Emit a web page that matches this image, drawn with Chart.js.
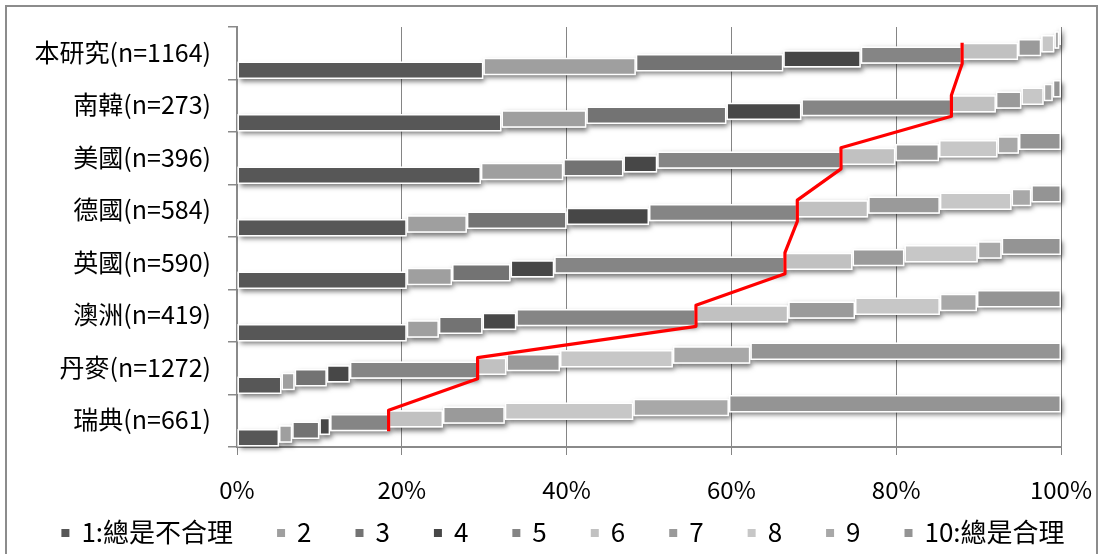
<!DOCTYPE html>
<html>
<head>
<meta charset="utf-8">
<script src="https://cdn.jsdelivr.net/npm/chart.js@4.4.1/dist/chart.umd.min.js"></script>
<style>
  html, body { margin: 0; padding: 0; background: #ffffff; }
  #wrap { width: 1104px; height: 554px; position: relative; }
</style>
</head>
<body>
<div id="wrap"><canvas id="chart"></canvas></div>
<script>
// Respondent groups (top to bottom)
const categories = ['本研究(n=1164)', '南韓(n=273)', '美國(n=396)', '德國(n=584)',
                    '英國(n=590)', '澳洲(n=419)', '丹麥(n=1272)', '瑞典(n=661)'];

// Legend labels for the ten answer levels
const seriesNames = ['1:總是不合理', '2', '3', '4', '5', '6', '7', '8', '9', '10:總是合理'];

// Share of answers (%) per level, one value per group in the order above
const score1  = [29.9, 32.1, 29.6, 20.6, 20.6, 20.6,  5.4,  5.1];
const score2  = [18.5, 10.3, 10.0,  7.3,  5.5,  3.9,  1.6,  1.6];
const score3  = [17.9, 17.0,  7.3, 12.1,  7.1,  5.3,  3.9,  3.3];
const score4  = [ 9.4,  9.1,  4.1, 10.0,  5.3,  4.1,  2.8,  1.3];
const score5  = [12.3, 18.2, 22.3, 18.0, 28.0, 21.8, 15.5,  7.1];
const score6  = [ 6.8,  5.4,  6.6,  8.6,  8.2, 11.2,  3.5,  6.6];
const score7  = [ 2.8,  3.1,  5.3,  8.7,  6.3,  8.1,  6.5,  7.5];
const score8  = [ 1.6,  2.7,  7.1,  8.7,  8.9, 10.3, 13.7, 15.6];
const score9  = [ 0.6,  1.1,  2.6,  2.4,  2.9,  4.5,  9.4, 11.6];
const score10 = [ 0.2,  1.0,  5.1,  3.6,  7.2, 10.2, 37.7, 40.3];

// X axis tick values
const percentTicks = [0, 20, 40, 60, 80, 100];

const seriesValues = [score1, score2, score3, score4, score5, score6, score7, score8, score9, score10];
const seriesColors = ['#575757', '#9f9f9f', '#737373', '#474747', '#858585',
                      '#c1c1c1', '#9a9a9a', '#c7c7c7', '#a8a8a8', '#949494'];

const FONT = "'Noto Sans CJK TC', 'Noto Sans', sans-serif";

// Each level becomes a floating segment [start, end] that continues where the previous one stops
const running = categories.map(() => 0);
const datasets = seriesValues.map((vals, s) => {
  const data = vals.map((v, i) => {
    const seg = [running[i], running[i] + v];
    running[i] += v;
    return seg;
  });
  return {
    label: seriesNames[s],
    data,
    backgroundColor: seriesColors[s],
    borderColor: '#ffffff',
    borderWidth: 1.5,
    borderSkipped: false,
    stack: 'level' + s,
    order: seriesValues.length - s,   // level 1 sits lowest, each next level steps upward
    categoryPercentage: 0.72,
    barPercentage: 4.6
  };
});

// White page with a thin grey frame
const framePlugin = {
  id: 'frame',
  beforeDraw(chart) {
    const ctx = chart.ctx;
    ctx.save();
    ctx.fillStyle = '#ffffff';
    ctx.fillRect(0, 0, chart.width, chart.height);
    ctx.strokeStyle = '#8c8c8c';
    ctx.lineWidth = 2;
    ctx.strokeRect(6, 6, 1091, 600);
    ctx.restore();
  }
};

// Soft drop shadow under every segment
const shadowPlugin = {
  id: 'segmentShadow',
  beforeDatasetsDraw(chart) {
    const ctx = chart.ctx;
    ctx.save();
    ctx.shadowColor = 'rgba(0,0,0,0.55)';
    ctx.shadowBlur = 5;
    ctx.shadowOffsetX = 2;
    ctx.shadowOffsetY = 3;
    ctx.fillStyle = '#ffffff';
    chart.data.datasets.forEach((ds, i) => {
      chart.getDatasetMeta(i).data.forEach(el => {
        const p = el.getProps(['x', 'y', 'base', 'height'], true);
        const l = Math.min(p.x, p.base), r = Math.max(p.x, p.base);
        ctx.fillRect(l, p.y - p.height / 2, r - l, p.height);
      });
    });
    ctx.restore();
  }
};

// Red series line joining the end of level 5 from group to group
const seriesLinePlugin = {
  id: 'seriesLine',
  afterDatasetsDraw(chart) {
    const ctx = chart.ctx;
    const five = chart.getDatasetMeta(4).data;
    const six = chart.getDatasetMeta(5).data;
    ctx.save();
    ctx.strokeStyle = '#ff0000';
    ctx.lineWidth = 3.2;
    ctx.lineJoin = 'round';
    ctx.beginPath();
    five.forEach((el, i) => {
      const p = el.getProps(['x', 'y', 'height'], true);
      const q = six[i].getProps(['y', 'height'], true);
      const top = q.y - q.height / 2;
      const bottom = p.y + p.height / 2;
      if (i === 0) ctx.moveTo(p.x, top); else ctx.lineTo(p.x, top);
      ctx.lineTo(p.x, bottom);
    });
    ctx.stroke();
    ctx.restore();
  }
};

// Single-row legend with small squares under the axis
const legendPlugin = {
  id: 'bottomLegend',
  afterDraw(chart) {
    const ctx = chart.ctx;
    const box = 8, textGap = 12, itemGap = 44, cy = 532, centerX = 563;
    ctx.save();
    ctx.font = '26px ' + FONT;
    ctx.textBaseline = 'middle';
    ctx.textAlign = 'left';
    const items = chart.data.datasets.map(d => ({
      label: d.label, color: d.backgroundColor,
      w: box + textGap + ctx.measureText(d.label).width
    }));
    const total = items.reduce((s, it) => s + it.w, 0) + itemGap * (items.length - 1);
    let x = centerX - total / 2;
    items.forEach(it => {
      ctx.fillStyle = it.color;
      ctx.fillRect(x, cy - box / 2 + 1, box, box);
      ctx.fillStyle = '#000000';
      ctx.fillText(it.label, x + box + textGap, cy);
      x += it.w + itemGap;
    });
    ctx.restore();
  }
};

new Chart(document.getElementById('chart'), {
  type: 'bar',
  data: { labels: categories, datasets },
  options: {
    indexAxis: 'y',
    responsive: true,
    maintainAspectRatio: false,
    animation: false,
    devicePixelRatio: 1,
    layout: { padding: { left: 0, right: 43, top: 27, bottom: 42 } },
    plugins: { legend: { display: false }, tooltip: { enabled: false } },
    scales: {
      x: {
        min: 0, max: 100,
        afterBuildTicks(scale) { scale.ticks = percentTicks.map(v => ({ value: v })); },
        afterFit(scale) {
          scale.height = 65;
          scale.paddingLeft = 0; scale.paddingRight = 0;
        },
        grid: { color: '#858585', lineWidth: 1, tickLength: 8 },
        border: { color: '#8a8a8a', width: 2 },
        ticks: {
          callback: v => v + '%',
          color: '#000000',
          font: { family: FONT, size: 24 },
          padding: 20,
          maxRotation: 0
        }
      },
      y: {
        afterFit(scale) {
          scale.width = 237;
          scale.paddingTop = 0; scale.paddingBottom = 0;
        },
        grid: { offset: true, drawOnChartArea: false, drawTicks: true, tickLength: 9, color: '#8a8a8a', lineWidth: 1.5 },
        border: { color: '#8a8a8a', width: 2 },
        ticks: {
          color: '#000000',
          font: { family: FONT, size: 25 },
          padding: 17,
          labelOffset: -1
        }
      }
    }
  },
  plugins: [framePlugin, shadowPlugin, seriesLinePlugin, legendPlugin]
});
</script>
</body>
</html>
